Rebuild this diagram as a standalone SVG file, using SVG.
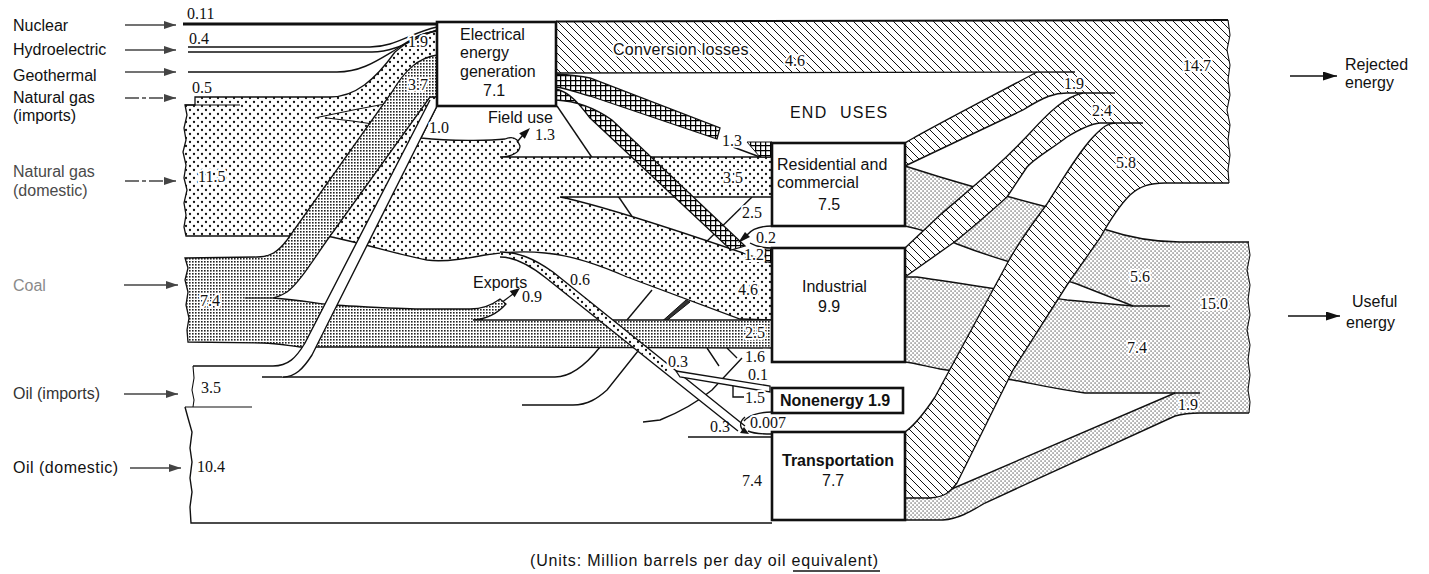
<svg xmlns="http://www.w3.org/2000/svg" width="1429" height="574" viewBox="0 0 1429 574">
<defs>
<pattern id="gas" width="8" height="8" patternUnits="userSpaceOnUse"><rect width="8" height="8" fill="#fff"/><circle cx="2" cy="2" r="1.15" fill="#111"/><circle cx="6" cy="6" r="1.15" fill="#111"/></pattern>
<pattern id="coal" width="3" height="3" patternUnits="userSpaceOnUse"><rect width="3" height="3" fill="#fff"/><rect width="1.6" height="1.6" fill="#222"/></pattern>
<pattern id="fine" width="4" height="4" patternUnits="userSpaceOnUse"><rect width="4" height="4" fill="#fff"/><rect x="0.5" y="0.5" width="1.1" height="1.1" fill="#222"/><rect x="2.5" y="2.5" width="1.1" height="1.1" fill="#222"/></pattern>
<pattern id="hatch" width="8" height="8" patternUnits="userSpaceOnUse"><rect width="8" height="8" fill="#fff"/><path d="M-1,-1 L9,9 M-1,7 L1,9 M7,-1 L9,1" stroke="#111" stroke-width="1"/></pattern>
<pattern id="xhatch" width="5" height="5" patternUnits="userSpaceOnUse"><rect width="5" height="5" fill="#fff"/><path d="M0,0.6 H5 M0.6,0 V5" stroke="#000" stroke-width="1.3"/></pattern>
<marker id="ah" viewBox="0 0 12 8" refX="12" refY="4" markerWidth="12" markerHeight="8" markerUnits="userSpaceOnUse" orient="auto"><path d="M0,0 L12,4 L0,8 Z" fill="#444"/></marker>
<marker id="ahb" viewBox="0 0 14 9" refX="14" refY="4.5" markerWidth="14" markerHeight="9" markerUnits="userSpaceOnUse" orient="auto"><path d="M0,0 L14,4.5 L0,9 Z" fill="#111"/></marker>
</defs>
<style>
.ln{fill:none;stroke:#111;stroke-width:1.4}
.tl{fill:none;stroke:#111;stroke-width:1.1}
.box{fill:#fff;stroke:#111;stroke-width:2.6}
.s{font-family:"Liberation Sans",Arial,sans-serif;font-size:16px;fill:#111}
.n{font-family:"Liberation Serif","Times New Roman",serif;font-size:16px;fill:#111}
.h{stroke:#fff;stroke-width:4;stroke-linejoin:round;paint-order:stroke}
.b{font-weight:bold}
.arr{stroke:#444;stroke-width:1.3;fill:none;marker-end:url(#ah)}
.dash{stroke-dasharray:14 3 4 3}
.blk{fill:#111;stroke:none}
</style>
<rect width="1429" height="574" fill="#fff"/>

<g id="connectors">
  <!-- oil region outlines -->
  <path class="tl" d="M193,366 L194,378 L192,390 L194,400 L193,407"/>
  <path class="tl" d="M185,407 L252,407"/>
  <path class="ln" d="M185,407 L188,418 L192,432 L190,448 L192,462 L190,478 L192,492 L190,507 L191,523 L772,523"/>
  <path class="ln" d="M262,377 L555,377 C570,377 585,366 600,347"/>
  <path class="ln" d="M522,405 L573,405 C588,405 598,398 607,390 L642,346"/>
  <path class="ln" d="M643,422 L660,420 C680,412 700,400 712,390 L742,358"/>
  <path class="ln" d="M707,348 L719,366 M727,348 L737,358 M733,386 L733,397 L744,397"/>
  <path class="ln" d="M688,437 L772,437"/>
  <path class="ln" d="M627,320 L652,290"/>
  <path d="M663,320.5 L667,320.5 L690,302 L686,300 Z" fill="#333" stroke="#111" stroke-width="1"/>
  <path class="ln" d="M557,106 L650,243"/>
  <path class="ln" d="M700,248 L752,197"/>

  <!-- natural gas -->
  <path d="M195,97 L330,97 C355,97 375,80 395,52 C410,40 420,33 437,31 L437,106 L421,138 C450,141 490,141 505,139 C510,137 514,137 517,140 L520,146 C520,152 512,157 500,157 L772,157 L772,197 L560,197 C600,205 700,238 772,263 L772,320 L740,319 L627,277 C595,263 570,255 545,253 C525,251 505,252 485,255 C460,260 440,262 427,260 C400,255 370,245 327,236 L186,236 L184,227 L186,215 L184,203 L187,190 L184,178 L186,165 L183,152 L186,140 L184,128 L187,115 L185,105 L195,105 Z" fill="url(#gas)" stroke="#111" stroke-width="1.3"/>
  <path class="tl" d="M185,105 L240,105"/>
  <path class="tl" d="M315,118 C335,114 370,105 437,96 M327,118 C345,120 360,122 380,125"/>
  <path class="ln" d="M517,142 L523,135"/>
  <path class="blk" d="M530,128 L524.8,138.8 L519.2,133.2 Z"/>

  <!-- hydro, geothermal, nuclear -->
  <path class="ln" d="M188,47 L370,47 C395,47 410,33 437,27"/>
  <path class="ln" d="M188,52 L372,52 C398,52 415,37 437,30"/>
  <path class="ln" d="M188,72 L337,72 C360,72 375,62 395,50 C410,40 420,33 437,31"/>
  <path d="M183,24 L437,24" stroke="#111" stroke-width="3" fill="none"/>

  <!-- coal -->
  <path d="M185,258 L257,257 C270,257 278,252 287,240 L392,92 C405,70 418,58 437,55 L437,97 L430,97 L333,232 C318,252 300,283 287,292 C282,295 278,297 273,298 C300,300 320,304 333,305 C370,307 400,309 420,309 L470,309 C483,309 492,305 500,299 L506,304 C498,313 488,319 473,320 L772,320 L772,348 L450,347 L300,347 C285,345 275,343 263,343 L188,342 L187,330 L189,318 L186,305 L188,292 L185,280 L188,268 Z" fill="url(#coal)" stroke="#111" stroke-width="1.3"/>
  <path class="tl" d="M245,298 L273,298"/>
  <path class="ln" d="M503,301.5 L513,294"/>
  <path class="blk" d="M520,288 L514.6,297.3 L509.7,291 Z"/>

  <!-- oil to electricity 1.0 -->
  <path d="M273,366 C288,366 296,358 305,343 L430,100 L437,106 L312,355 C303,369 295,377 283,377 Z" fill="#fff"/>
  <path class="ln" d="M193,366 L273,366 C288,366 296,358 305,343 L430,100"/>
  <path class="ln" d="M283,377 C295,377 303,369 312,355 L437,106"/>

  <!-- 0.6 band, 0.1 and 0.3 -->
  <path d="M500,252 C518,252 533,258 553,272 L745,426 L738,431 L546,278 C527,263 513,257 500,257 Z" fill="#fff"/>
  <path d="M500,252 C518,252 533,258 553,272 L672,367 L665,372 L546,278 C527,263 513,257 500,257 Z" fill="url(#gas)"/>
  <path class="ln" d="M500,252 C518,252 533,258 553,272 L745,426"/>
  <path class="ln" d="M500,257 C513,257 527,263 546,278 L738,431"/>
  <path d="M676,371 L770,386 L770,392 L680,377 Z" fill="#fff" stroke="#111" stroke-width="1.3"/>

  <!-- electricity distribution -->
  <path d="M556,74 C570,75 580,76 590,78 L720,128 L717,139 L590,96 C575,92 565,88 556,87 Z" fill="url(#xhatch)" stroke="#111" stroke-width="1.3"/>
  <path d="M556,89 C570,92 580,105 590,118 L731,250 L745,246 L612,120 C595,108 575,101 556,100 Z" fill="url(#xhatch)" stroke="#111" stroke-width="1.3"/>
  <path d="M747,142 L772,142 L772,157 L760,157 Z" fill="url(#xhatch)" stroke="#111" stroke-width="1"/>
  <rect x="765" y="249" width="7" height="13" fill="url(#xhatch)" stroke="#111" stroke-width="1"/>
  <path class="ln" d="M733,147 L760,157"/>

  <!-- small loops -->
  <path class="ln" d="M772,226 C760,226 752,229 747,235 M772,248 C762,248 755,246 750,243"/>
  <path class="blk" d="M738,243 L745,232 L750,237 Z"/>
  <path class="ln" d="M772,412 C758,412 748,416 744,421 M772,434 C760,434 752,433 748,431"/>
  <path class="ln" d="M745,417 C738,423 740,429 746,432"/>
  <path class="blk" d="M749,434 L740,433 L744,427 Z"/>

  <!-- useful energy -->
  <path d="M905,166 L940,177 C990,192 1020,200 1047,207 C1075,215 1095,226 1107,230 C1125,236 1150,242 1180,242 L1249,242 L1249,306 L1133,306 L1077,284 C1040,272 1020,266 1010,262 C990,256 970,249 957,244 C940,236 925,230 905,226 Z" fill="url(#fine)"/>
  <path d="M905,277 L917,277 C960,283 1020,293 1067,300 L1133,306 L1249,306 L1249,393 L1085,393 C1050,388 1030,383 1013,380 L940,369 C925,366 915,363 905,362 Z" fill="url(#fine)"/>
  <path d="M905,498 L927,498 C935,497 940,495 947,491 L1175,393 L1249,393 L1249,413 L1200,413 C1190,413 1182,414 1175,416 L985,503 C970,512 958,519 943,520 L905,520 Z" fill="url(#fine)"/>
  <path class="ln" d="M905,166 L940,177 C990,192 1020,200 1047,207 C1075,215 1095,226 1107,230 C1125,236 1150,242 1180,242 L1249,242"/>
  <path class="ln" d="M905,226 C925,230 940,236 957,244 C970,249 990,256 1010,262 C1020,266 1040,272 1077,284 L1133,306 L1170,306"/>
  <path class="ln" d="M905,277 L917,277 C960,283 1020,293 1067,300 L1133,306"/>
  <path class="ln" d="M905,362 C915,363 925,366 940,369 L1013,380 C1030,383 1050,388 1085,393 L1200,393"/>
  <path class="ln" d="M927,498 C935,497 940,495 947,491 L1175,393"/>
  <path class="ln" d="M905,520 L943,520 C958,519 970,512 985,503 L1175,416 C1182,414 1190,413 1200,413 L1249,413"/>
  <path class="tl" d="M1248,242 L1250,255 L1247,270 L1250,285 L1248,300 L1250,315 L1247,330 L1250,345 L1248,360 L1250,375 L1248,390 L1250,402 L1249,413"/>

  <!-- rejected energy -->
  <path d="M556,22 L1228,20 L1230,35 L1227,50 L1230,65 L1228,80 L1230,95 L1227,110 L1230,125 L1228,140 L1230,155 L1228,170 L1229,183 L1160,183 L1160,123 L1105,123 L1075,93 L1037,72 L556,73 Z" fill="url(#hatch)"/>
  <path d="M905,143 C930,128 1000,92 1037,72 L1080,72 L1080,93 L1067,93 C1055,93 1045,96 1023,110 L905,166 Z" fill="url(#hatch)"/>
  <path d="M905,248 L940,215 C975,185 1000,165 1030,133 C1050,111 1065,97 1083,93 L1110,93 L1110,123 L1100,123 C1090,124 1080,129 1067,137 C1050,150 1035,158 1027,167 L1007,197 C990,212 970,230 953,243 L905,277 Z" fill="url(#hatch)"/>
  <path d="M905,432 C915,425 925,412 935,397 L1008,262 C1020,240 1035,220 1047,204 C1062,180 1080,150 1095,135 C1103,127 1108,123 1115,123 L1165,123 L1165,183 C1150,183 1140,186 1130,195 C1120,205 1110,220 1100,238 L1067,285 L1013,370 L957,483 C950,492 945,497 930,498 L905,498 Z" fill="url(#hatch)"/>
  <path d="M556,21.5 L1228,20" stroke="#111" stroke-width="2" fill="none"/>
  <path class="tl" d="M1228,20 L1230,35 L1227,50 L1230,65 L1228,80 L1230,95 L1227,110 L1230,125 L1228,140 L1230,155 L1228,170 L1229,183"/>
  <path class="ln" d="M556,73 L1075,72"/>
  <path class="ln" d="M905,143 C930,128 1000,92 1037,72"/>
  <path class="ln" d="M905,166 L1023,110 C1045,96 1055,93 1067,93 L1115,93"/>
  <path class="ln" d="M905,248 L940,215 C975,185 1000,165 1030,133 C1050,111 1065,97 1083,93"/>
  <path class="ln" d="M905,277 L953,243 C970,230 990,212 1007,197 L1027,167 C1035,158 1050,150 1067,137 C1080,129 1090,124 1100,123 L1143,123"/>
  <path class="ln" d="M905,432 C915,425 925,412 935,397 L1008,262 C1020,240 1035,220 1047,204 C1062,180 1080,150 1095,135 C1103,127 1108,123 1115,123"/>
  <path class="ln" d="M905,498 L930,498 C945,497 950,492 957,483 L1013,370 L1067,285 L1100,238 C1110,220 1120,205 1130,195 C1140,186 1150,183 1165,183 L1229,183"/>

  <!-- flow labels -->
  <g class="n">
    <text x="187" y="19">0.11</text>
    <text x="189" y="44">0.4</text>
    <text x="192" y="93">0.5</text>
    <text class="h" x="198" y="182">11.5</text>
    <text class="h" x="408" y="47">1.9</text>
    <text class="h" x="408" y="90">3.7</text>
    <text class="h" x="429" y="133">1.0</text>
    <text class="h" x="200" y="306">7.4</text>
    <text x="201" y="393">3.5</text>
    <text x="197" y="472">10.4</text>
    <text x="535" y="140">1.3</text>
    <text x="522" y="302">0.9</text>
    <text x="570" y="285">0.6</text>
    <text class="h" x="668" y="367">0.3</text>
    <text x="710" y="432">0.3</text>
    <text x="742" y="486">7.4</text>
    <text class="h" x="785" y="66">4.6</text>
    <text class="h" x="722" y="146">1.3</text>
    <text class="h" x="723" y="183">3.5</text>
    <text class="h" x="742" y="218">2.5</text>
    <text class="h" x="756" y="243">0.2</text>
    <text class="h" x="744" y="260">1.2</text>
    <text class="h" x="738" y="295">4.6</text>
    <text class="h" x="745" y="338">2.5</text>
    <text class="h" x="745" y="362">1.6</text>
    <text class="h" x="748" y="380">0.1</text>
    <text class="h" x="745" y="403">1.5</text>
    <text class="h" x="750" y="428">0.007</text>
    <text class="h" x="1183" y="71">14.7</text>
    <text class="h" x="1064" y="89">1.9</text>
    <text class="h" x="1092" y="116">2.4</text>
    <text class="h" x="1116" y="168">5.8</text>
    <text class="h" x="1130" y="282">5.6</text>
    <text class="h" x="1127" y="353">7.4</text>
    <text class="h" x="1200" y="309">15.0</text>
    <text class="h" x="1178" y="410">1.9</text>
  </g>
  <text class="s h" x="613" y="55" letter-spacing="0.3">Conversion losses</text>
  <text class="s" x="488" y="123">Field use</text>
  <text class="s" x="473" y="288">Exports</text>
</g>

<g id="node-electrical">
  <rect class="box" x="437" y="22" width="119" height="84"/>
  <text class="s" x="460" y="40">Electrical</text>
  <text class="s" x="460" y="58">energy</text>
  <text class="s" x="460" y="77">generation</text>
  <text class="s" x="483" y="96">7.1</text>
</g>
<g id="end-uses-title"><text class="s" x="790" y="118" letter-spacing="1.2" word-spacing="7">END USES</text></g>
<g id="node-residential">
  <rect class="box" x="772" y="143" width="133" height="83"/>
  <text class="s" x="777" y="170">Residential and</text>
  <text class="s" x="777" y="188">commercial</text>
  <text class="s" x="818" y="210">7.5</text>
</g>
<g id="node-industrial">
  <rect class="box" x="772" y="248" width="133" height="114"/>
  <text class="s" x="802" y="292">Industrial</text>
  <text class="s" x="818" y="312">9.9</text>
</g>
<g id="node-nonenergy">
  <rect class="box" x="772" y="388" width="131" height="25" stroke-width="3.2"/>
  <text class="s b" x="780" y="406">Nonenergy  1.9</text>
</g>
<g id="node-transportation">
  <rect class="box" x="772" y="432" width="133" height="88"/>
  <text class="s b" x="782" y="466">Transportation</text>
  <text class="s" x="822" y="486">7.7</text>
</g>

<g id="src-nuclear"><text class="s" x="13" y="31">Nuclear</text><path class="arr" d="M125,25 L176,25"/></g>
<g id="src-hydro"><text class="s" x="13" y="55">Hydroelectric</text><path class="arr" d="M125,50 L176,50"/></g>
<g id="src-geothermal"><text class="s" x="13" y="81">Geothermal</text><path class="arr" d="M125,72 L176,72"/></g>
<g id="src-gas-imports"><text class="s" x="13" y="103">Natural gas</text><text class="s" x="13" y="121">(imports)</text><path class="arr dash" d="M125,98 L176,98"/></g>
<g id="src-gas-domestic"><text class="s" x="13" y="177" style="fill:#4a4a4a">Natural gas</text><text class="s" x="13" y="196" style="fill:#4a4a4a">(domestic)</text><path class="arr dash" d="M125,181 L176,181"/></g>
<g id="src-coal"><text class="s" x="13" y="291" style="fill:#8a8a8a">Coal</text><path class="arr" d="M124,285 L178,285"/></g>
<g id="src-oil-imports"><text class="s" x="13" y="399" style="fill:#333">Oil (imports)</text><path class="arr" d="M124,394 L178,394"/></g>
<g id="src-oil-domestic"><text class="s" x="13" y="473" letter-spacing="0.5">Oil (domestic)</text><path class="arr" d="M130,468 L181,468"/></g>

<g id="sink-rejected"><path d="M1290,76 L1337,76" stroke="#111" stroke-width="1.3" marker-end="url(#ahb)"/><text class="s" x="1345" y="70">Rejected</text><text class="s" x="1345" y="88">energy</text></g>
<g id="sink-useful"><path d="M1288,316 L1340,316" stroke="#111" stroke-width="1.3" marker-end="url(#ahb)"/><text class="s" x="1352" y="307">Useful</text><text class="s" x="1346" y="328">energy</text></g>

<g id="units">
  <text class="s" x="530" y="566" textLength="348">(Units: Million barrels per day oil equivalent)</text>
  <path d="M793,571 L880,571" stroke="#111" stroke-width="1.3"/>
</g>
</svg>
